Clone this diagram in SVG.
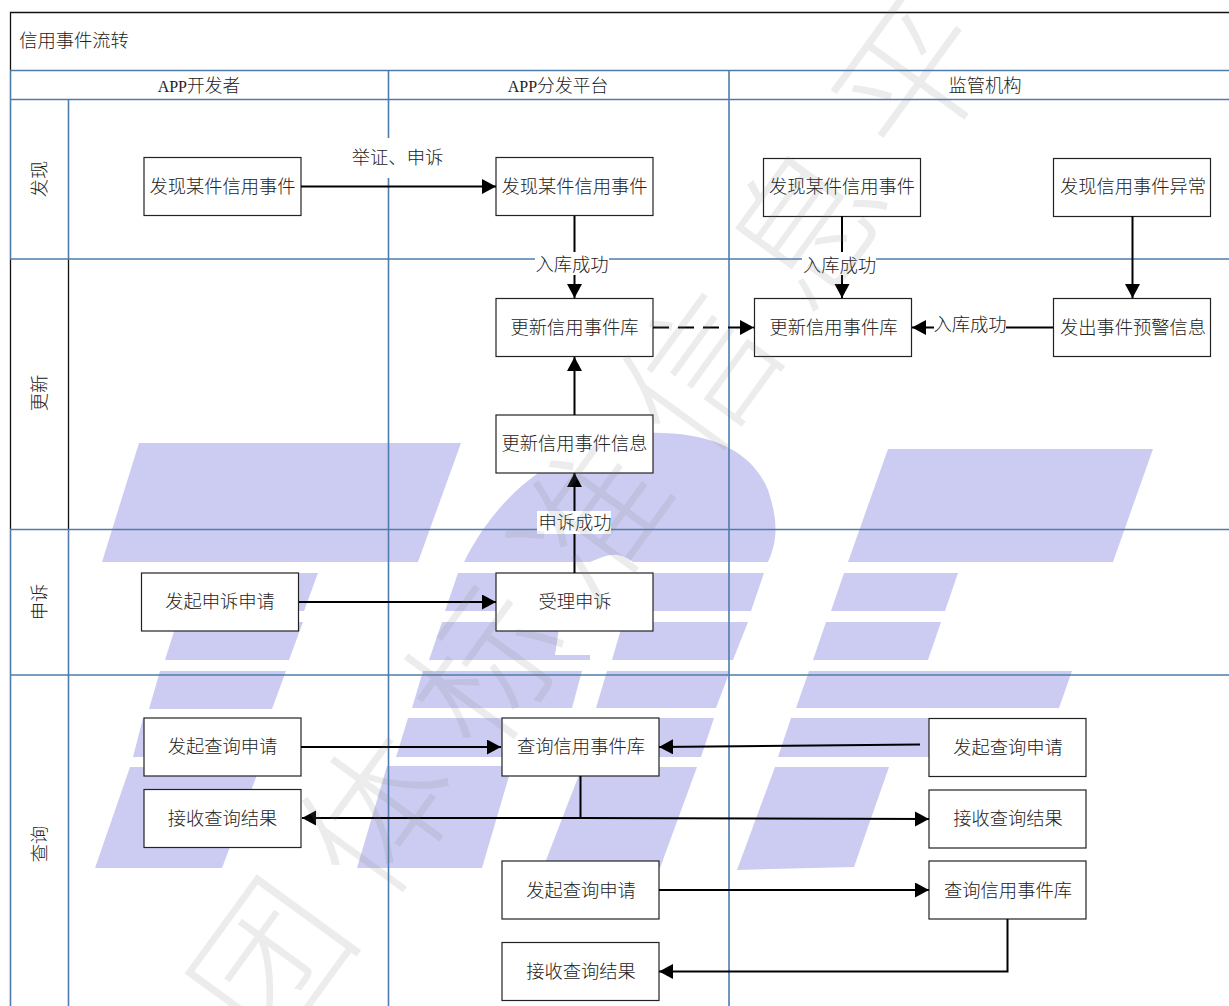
<svg xmlns="http://www.w3.org/2000/svg" width="1229" height="1006" viewBox="0 0 1229 1006">
<style>
text{font-family:"Liberation Serif","Noto Sans CJK SC",serif;font-size:18.3px;font-weight:300;fill:#222;text-anchor:middle;dominant-baseline:central}
.hd{font-size:17.8px}
.lat{font-size:16px}
.logo{fill:#ccccf2}
.grid{stroke:#4f7dab;stroke-width:1.6;fill:none}
.blk{stroke:#111;stroke-width:1.3;fill:none}
.node rect{fill:#fff;stroke:#222;stroke-width:1.2}
.c{stroke:#000;stroke-width:2;fill:none}
.mask{fill:#fff}
.wm{font-family:"Noto Sans CJK SC",sans-serif;font-size:150px;font-weight:300;fill:#808080;fill-opacity:.15;text-anchor:start;dominant-baseline:auto;letter-spacing:32px}
</style>
<defs>
<marker id="a" markerUnits="userSpaceOnUse" markerWidth="15" markerHeight="16" refX="14" refY="7.5" orient="auto"><path d="M0 0L14 7.5L0 15Z" fill="#000"/></marker>
</defs>
<rect width="1229" height="1006" fill="#fff"/>
<g id="logo">
<path class="logo" d="M139 443H461L418 562H102Z"/>
<path class="logo" d="M178 573H318L304 611H165Z"/>
<path class="logo" d="M177 622H303L289 660H165Z"/>
<path class="logo" d="M160 671H286L272 709H149Z"/>
<path class="logo" d="M143 718H270L256 757H133Z"/>
<path class="logo" d="M130 767H260L222 868H95Z"/>
<path class="logo" d="M464 562C500 490 560 445 640 433C700 430 750 445 768 490C778 520 778 540 768 562H633C622 553 610 553 600 558L590 562Z"/>
<path class="logo" d="M458 573H764L751 611H445Z"/>
<path class="logo" d="M442 622H560L555 655H590V660H429Z"/>
<path class="logo" d="M623 622H748L733 660H612Z"/>
<path class="logo" d="M423 671H582L572 708H412Z"/>
<path class="logo" d="M607 671H730L716 708H596Z"/>
<path class="logo" d="M408 718H714L701 757H396Z"/>
<path class="logo" d="M387 766H512L482 868H357Z"/>
<path class="logo" d="M582 767H697L660 868H543Z"/>
<path class="logo" d="M888 449H1153L1113 562H848Z"/>
<path class="logo" d="M844 573H958L945 611H831Z"/>
<path class="logo" d="M826 622H941L928 660H813Z"/>
<path class="logo" d="M809 671H1072L1059 708H796Z"/>
<path class="logo" d="M791 718H945L930 757H778Z"/>
<path class="logo" d="M775 767H889L854 867L737 870Z"/>
</g>
<g id="swimlanes">
<path class="blk" d="M1229 12.500H10.500V70M10.500 259V529M68.500 259V529"/>
<path class="grid" d="M10 70.500H1229M10 99.500H1229M10 259H1229M10 529.500H1229M10 675H1229"/>
<path class="grid" d="M10.500 70V259M10.500 529V1006M68.500 99V259M68.500 529V1006M388.500 70V1006M729 70V1006"/>
<text x="74" y="41">信用事件流转</text>
<text class="hd" x="199" y="86"><tspan class="lat">APP</tspan>开发者</text>
<text class="hd" x="558" y="86"><tspan class="lat">APP</tspan>分发平台</text>
<text x="985" y="86">监管机构</text>
<text transform="translate(40 179) rotate(-90)">发现</text>
<text transform="translate(40 393) rotate(-90)">更新</text>
<text transform="translate(40 602) rotate(-90)">申诉</text>
<text transform="translate(40 844) rotate(-90)">查询</text>
</g>
<g id="n1" class="node"><rect x="144" y="157.500" width="157" height="58"/><text x="222.500" y="187">发现某件信用事件</text></g>
<g id="n2" class="node"><rect x="496" y="157.500" width="157" height="58"/><text x="574.500" y="187">发现某件信用事件</text></g>
<g id="n3" class="node"><rect x="763.500" y="158.500" width="157" height="58"/><text x="842" y="187">发现某件信用事件</text></g>
<g id="n4" class="node"><rect x="1053.500" y="158.500" width="157" height="58"/><text x="1133" y="187">发现信用事件异常</text></g>
<g id="n5" class="node"><rect x="496" y="298.500" width="157" height="58"/><text x="574.500" y="328">更新信用事件库</text></g>
<g id="n6" class="node"><rect x="754.500" y="298.500" width="157" height="58"/><text x="833.500" y="328">更新信用事件库</text></g>
<g id="n7" class="node"><rect x="1053.500" y="298.500" width="157" height="58"/><text x="1133" y="328">发出事件预警信息</text></g>
<g id="n8" class="node"><rect x="496" y="415" width="157" height="58"/><text x="574.500" y="444">更新信用事件信息</text></g>
<g id="n9" class="node"><rect x="141.500" y="573" width="157" height="58"/><text x="220" y="602">发起申诉申请</text></g>
<g id="n10" class="node"><rect x="496" y="573" width="157" height="58"/><text x="575" y="602">受理申诉</text></g>
<g id="n11" class="node"><rect x="144" y="718" width="157" height="58"/><text x="222.500" y="747">发起查询申请</text></g>
<g id="n12" class="node"><rect x="144" y="789.500" width="157" height="58"/><text x="222.500" y="819">接收查询结果</text></g>
<g id="n13" class="node"><rect x="502" y="718" width="157" height="58"/><text x="581" y="747">查询信用事件库</text></g>
<g id="n14" class="node"><rect x="929" y="718.500" width="157" height="58"/><text x="1008" y="748">发起查询申请</text></g>
<g id="n15" class="node"><rect x="929" y="790" width="157" height="58"/><text x="1008" y="819">接收查询结果</text></g>
<g id="n16" class="node"><rect x="929" y="861" width="157" height="58"/><text x="1008" y="891">查询信用事件库</text></g>
<g id="n17" class="node"><rect x="502" y="861" width="157" height="58"/><text x="581" y="891">发起查询申请</text></g>
<g id="n18" class="node"><rect x="502" y="942.500" width="157" height="58"/><text x="581" y="972">接收查询结果</text></g>
<g id="connectors">
<path class="c" marker-end="url(#a)" d="M301 186.500H496"/>
<path class="c" marker-end="url(#a)" d="M574.500 216V298"/>
<path class="c" marker-end="url(#a)" d="M842 216V298"/>
<path class="c" marker-end="url(#a)" d="M1132.500 216V298"/>
<path class="c" marker-end="url(#a)" d="M1053 327.500H912"/>
<path class="c" marker-end="url(#a)" stroke-dasharray="16 9" d="M653 327.500H754"/>
<path class="c" marker-end="url(#a)" d="M574.500 415V357"/>
<path class="c" marker-end="url(#a)" d="M574.500 573V473"/>
<path class="c" marker-end="url(#a)" d="M299 602H496"/>
<path class="c" marker-end="url(#a)" d="M301 747H501"/>
<path class="c" marker-end="url(#a)" d="M920 744.500L659 747"/>
<path class="c" marker-end="url(#a)" d="M580.500 776V818H302"/>
<path class="c" marker-end="url(#a)" d="M580.500 818L929 819"/>
<path class="c" marker-end="url(#a)" d="M659 890H929"/>
<path class="c" marker-end="url(#a)" d="M1007.500 919V971.500H659"/>
<rect class="mask" x="351" y="138" width="93" height="40"/><text x="397.500" y="158">举证、申诉</text>
<rect class="mask" x="535" y="252" width="74" height="23"/><text x="572" y="265">入库成功</text>
<rect class="mask" x="802" y="252" width="74" height="23"/><text x="839.500" y="266">入库成功</text>
<rect class="mask" x="934" y="314" width="72" height="22"/><text x="970" y="325">入库成功</text>
<rect class="mask" x="537" y="511" width="74" height="23"/><text x="575" y="523">申诉成功</text>
</g>
<text class="wm" transform="translate(272 1054) rotate(-54)">团体标准信息平</text>
</svg>
